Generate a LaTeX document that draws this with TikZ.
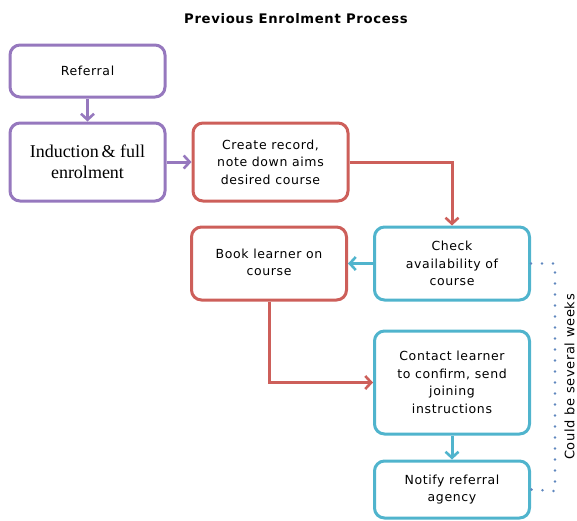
\documentclass[tikz,border=0pt]{standalone}
\usepackage{fontspec}
\setmainfont{DejaVu Sans}
\newfontfamily\boxfont[LetterSpace=5]{DejaVu Sans}
\newfontfamily\serifbox{Liberation Serif}
\usetikzlibrary{arrows.meta,calc}
\definecolor{cpurple}{RGB}{150,120,190}
\definecolor{cred}{RGB}{205,95,90}
\definecolor{ccyan}{RGB}{80,180,205}
\definecolor{cdot}{RGB}{95,135,190}
\begin{document}
\begin{tikzpicture}[x=1pt,y=-1pt,
  box/.style={draw, line width=3pt, rounded corners=10pt, fill=white,
    minimum width=155pt, align=center, font=\boxfont\fontsize{12.5}{17.5}\selectfont, inner sep=2pt},
  pbox/.style={box, draw=cpurple},
  rbox/.style={box, draw=cred},
  cbox/.style={box, draw=ccyan},
  arr/.style={line width=3pt, -{Straight Barb[length=6pt,width=13pt,line width=2.6pt]}},
  ]
\useasboundingbox (0,0) rectangle (577,520);
\node[font=\boxfont\bfseries\fontsize{13.2}{15}\selectfont] (title) at (296,18.5) {Previous Enrolment Process};
\node[pbox, minimum height=52pt] (ref) at (87.5,71) {Referral};
\node[pbox, minimum height=78pt, font=\serifbox\fontsize{18}{21}\selectfont] (ind) at (87.5,162) {Induction\,\&\ full\\enrolment};
\node[rbox, minimum height=78pt] (cr) at (270.5,162) {Create record,\\note down aims\\desired course};
\node[cbox, minimum height=73pt] (chk) at (452,263.5) {Check\\availability of\\course};
\node[rbox, minimum height=73pt] (book) at (269,263.5) {Book learner on\\course\vphantom{g}};
\node[cbox, minimum height=103pt] (con) at (452,382.5) {Contact learner\\to confirm, send\\joining\\instructions};
\node[cbox, minimum height=57pt] (ntf) at (452,489.5) {Notify referral\\agency};
\draw[arr, cpurple] (ref.south) -- (ind.north);
\draw[arr, cpurple] (ind.east) -- (cr.west);
\draw[arr, cred] (cr.east) -| (chk.north);
\draw[arr, ccyan] (chk.west) -- (book.east);
\draw[arr, cred] (book.south) |- (con.west);
\draw[arr, ccyan] (con.south) -- (ntf.north);
\coordinate (dA) at (555,263.5);
\coordinate (dB) at (555,491);
\draw[cdot, line width=2.8pt, line cap=round, dash pattern=on 0pt off 11pt] (chk.east) -- (dA) -- (dB) -- (ntf.east);
\node[rotate=90, font=\boxfont\fontsize{13}{16}\selectfont, inner sep=0pt] (wk) at (569.5,377) {Could be several weeks};
\end{tikzpicture}
\end{document}
